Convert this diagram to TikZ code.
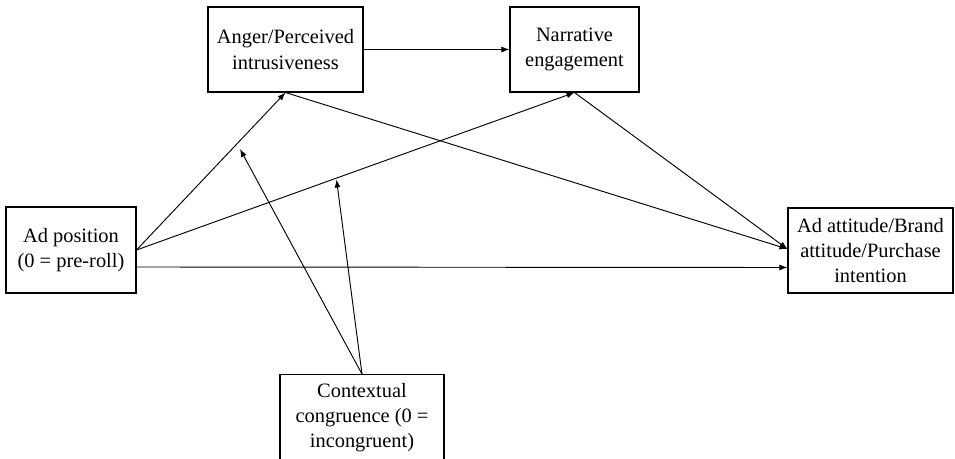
\documentclass[tikz,border=0pt]{standalone}
\usepackage{fontspec}
\setmainfont{Liberation Serif}
\usetikzlibrary{arrows.meta,calc}
\begin{document}
\begin{tikzpicture}[x=0.75pt,y=-0.75pt,
  box/.style={draw,line width=0.8pt,inner sep=0pt,align=center,
    font=\fontsize{15.3}{18.8}\selectfont},
  arr/.style={line width=0.7pt,-{Latex[length=6pt,width=4.5pt]}}]
\useasboundingbox (0,0) rectangle (955,459);
\node[box,minimum width=116.25pt,minimum height=63.75pt] (anger) at (285.5,49.5) {Anger/Perceived\\intrusiveness};
\node[box,minimum width=96.75pt,minimum height=63.75pt] (narr) at (574.5,49.5) {Narrative\\engagement};
\node[box,minimum width=97.5pt,minimum height=64.5pt] (adpos) at (71,250) {Ad position\\(0 = pre-roll)};
\node[box,minimum width=123.75pt,minimum height=63.75pt] (out) at (870.5,250.5) {Ad attitude/Brand\\attitude/Purchase\\intention};
\node[box,minimum width=123pt,minimum height=65pt] (cont) at (362,418) {Contextual\\congruence (0 =\\incongruent)};
\coordinate (m1) at (240,149);
\coordinate (m2) at (336.5,179.5);
\draw[arr] (anger.east) -- (narr.west);
\draw[arr] (adpos.east) -- (anger.south);
\draw[arr] (adpos.east) -- (narr.south);
\draw[arr] ($(adpos.east)+(0,17)$) -- ($(out.west)+(0,17)$);
\draw[arr] (anger.south) -- ($(out.west)+(0,-1.5)$);
\draw[arr] (narr.south) -- ($(out.west)+(0,-1.5)$);
\draw[arr] (cont.north) -- (m1);
\draw[arr] (cont.north) -- (m2);
\end{tikzpicture}
\end{document}
